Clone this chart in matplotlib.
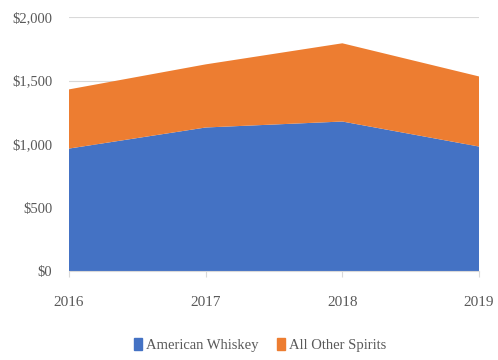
import matplotlib
matplotlib.use("Agg")
import matplotlib.pyplot as plt
from matplotlib.patches import Patch
from matplotlib.ticker import FuncFormatter

years = [2016, 2017, 2018, 2019]
american_whiskey = [964, 1130, 1177, 980]
all_other_spirits = [466, 497, 616, 552]
series_names = ["American Whiskey", "All Other Spirits"]
colors = ["#4472C4", "#ED7D31"]
yticks = [0, 500, 1000, 1500, 2000]

plt.rcParams['font.family'] = ['Liberation Serif', 'DejaVu Serif']
txt = "#595959"

fig = plt.figure(figsize=(4.98, 3.6), dpi=100)
ax = fig.add_axes([69/498, 1-271/360, (479-69)/498, (271-17)/360])
ax.stackplot(years, american_whiskey, all_other_spirits, colors=colors, linewidth=0, zorder=2)
ax.set_xlim(years[0], years[-1])
ax.set_ylim(0, 2000)
ax.set_yticks(yticks)
ax.yaxis.set_major_formatter(FuncFormatter(lambda v, p: f"${int(v):,}"))
ax.set_xticks(years)
ax.grid(axis='y', color='#D9D9D9', linewidth=0.8, zorder=0)
for s in ['top', 'right', 'left']:
    ax.spines[s].set_visible(False)
ax.spines['bottom'].set_color('#D9D9D9')
ax.tick_params(axis='y', length=0, labelsize=10.5, labelcolor=txt, pad=12)
ax.tick_params(axis='x', length=4, color='#D9D9D9', labelsize=11, labelcolor=txt, pad=14)

handles = [Patch(color=c, label=n) for c, n in zip(colors, series_names)]
leg = fig.legend(handles=handles, loc='center', bbox_to_anchor=(0.522, 1-345/360), ncol=2,
                 frameon=False, fontsize=10.5, labelcolor=txt, handlelength=0.55, handleheight=0.9,
                 handletextpad=0.25, columnspacing=1.3, borderpad=0)
fig.savefig("out.png", dpi=100)
